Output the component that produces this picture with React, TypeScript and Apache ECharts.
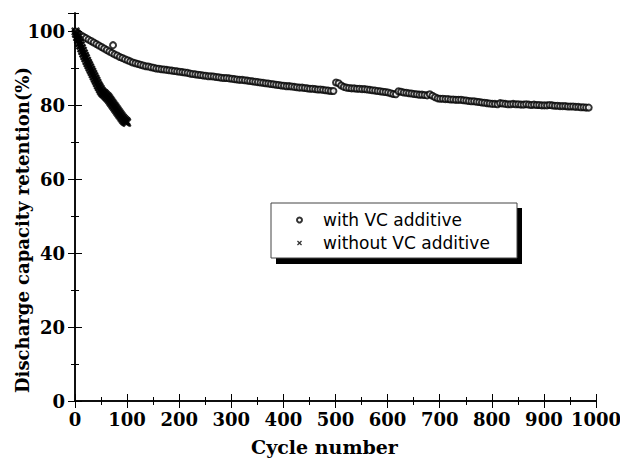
import React, { useEffect, useRef } from "react";
import * as echarts from "echarts";

// ---- data ----
const xTickLabels = ["0", "100", "200", "300", "400", "500", "600", "700", "800", "900", "1000"];
const yTickLabels = ["0", "20", "40", "60", "80", "100"];

// with VC additive: capacity retention (%) sampled every 5 cycles starting at cycle 1
const withVCStartCycle = 1;
const withVCStep = 5;
const withVCValues = [
  100.0, 99.5, 99.0, 98.6, 98.2, 97.8, 97.4, 97.0, 96.6, 96.2,
  95.8, 95.4, 95.0, 94.6, 94.2, 93.8, 93.5, 93.1, 92.8, 92.5,
  92.2, 91.9, 91.6, 91.4, 91.2, 91.0, 90.8, 90.6, 90.5, 90.3,
  90.2, 90.0, 89.9, 89.8, 89.7, 89.6, 89.5, 89.4, 89.3, 89.2,
  89.1, 89.0, 88.9, 88.8, 88.6, 88.5, 88.4, 88.3, 88.2, 88.1,
  88.0, 87.9, 87.9, 87.8, 87.7, 87.6, 87.5, 87.4, 87.4, 87.3,
  87.2, 87.1, 87.0, 86.9, 86.9, 86.8, 86.7, 86.6, 86.5, 86.4,
  86.3, 86.2, 86.1, 86.0, 85.9, 85.8, 85.7, 85.6, 85.5, 85.4,
  85.3, 85.2, 85.2, 85.1, 85.0, 84.9, 84.8, 84.8, 84.7, 84.6,
  84.5, 84.5, 84.4, 84.3, 84.3, 84.2, 84.1, 84.0, 83.9, 83.9,
  86.2, 86.0, 85.4, 85.0, 84.8, 84.7, 84.6, 84.6, 84.5, 84.5,
  84.4, 84.4, 84.3, 84.2, 84.1, 84.0, 83.9, 83.8, 83.7, 83.6,
  83.5, 83.3, 83.1, 83.0, 83.8, 83.7, 83.5, 83.4, 83.3, 83.2,
  83.1, 83.0, 82.9, 82.9, 82.8, 82.7, 83.0, 82.6, 82.2, 81.9,
  81.8, 81.8, 81.7, 81.7, 81.6, 81.6, 81.5, 81.5, 81.5, 81.4,
  81.3, 81.2, 81.1, 81.1, 81.0, 80.9, 80.8, 80.7, 80.6, 80.5,
  80.4, 80.4, 80.3, 80.6, 80.5, 80.4, 80.3, 80.3, 80.4, 80.3,
  80.3, 80.2, 80.2, 80.3, 80.2, 80.1, 80.2, 80.1, 80.1, 80.0,
  80.0, 80.0, 80.1, 80.0, 79.9, 79.9, 79.8, 79.8, 79.8, 79.7,
  79.7, 79.7, 79.6, 79.6, 79.5, 79.5, 79.4, 79.4,
];
// isolated outlier point of the "with VC" series
const withVCOutlierCycle = 73;
const withVCOutlierValue = 96.3;

// without VC additive: one value per cycle, cycles 1..100
const withoutVCValues = [
  100.0, 99.4, 99.3, 98.5, 98.5, 97.7, 97.7, 96.9, 96.9, 96.2,
  96.2, 95.4, 95.5, 94.7, 94.8, 94.0, 94.1, 93.3, 93.4, 92.7,
  92.8, 92.0, 92.1, 91.4, 91.5, 90.8, 90.9, 90.2, 90.3, 89.6,
  89.7, 89.0, 89.1, 88.4, 88.5, 87.8, 87.9, 87.2, 87.3, 86.6,
  86.7, 86.0, 86.1, 85.4, 85.5, 84.9, 85.0, 84.3, 84.5, 83.8,
  84.0, 83.4, 83.6, 83.1, 83.4, 82.9, 83.2, 82.6, 82.9, 82.3,
  82.6, 82.0, 82.4, 81.7, 82.0, 81.3, 81.6, 80.9, 81.2, 80.5,
  80.8, 80.1, 80.4, 79.7, 80.0, 79.3, 79.6, 78.9, 79.2, 78.5,
  78.8, 78.1, 78.4, 77.7, 78.0, 77.3, 77.6, 76.9, 77.2, 76.5,
  76.8, 76.1, 76.5, 75.8, 76.2, 75.6, 75.9, 75.4, 75.7, 75.3,
];

const withVCName = "with VC additive";
const withoutVCName = "without VC additive";

const crossPath =
  "path://M0,1.8L1.8,0L5,3.2L8.2,0L10,1.8L6.8,5L10,8.2L8.2,10L5,6.8L1.8,10L0,8.2L3.2,5Z";

const serifFont = "DejaVu Serif";

export default function App() {
  const ref = useRef<HTMLDivElement>(null);

  useEffect(() => {
    if (!ref.current) return;
    const chart = echarts.init(ref.current, undefined, { renderer: "svg" });

    const withVCData: number[][] = withVCValues.map((v, i) => [withVCStartCycle + i * withVCStep, v]);
    withVCData.splice(15, 0, [withVCOutlierCycle, withVCOutlierValue]);
    const withoutVCData: number[][] = withoutVCValues.map((v, i) => [i + 1, v]);

    const lineStyle = { color: "#000", width: 1.5 };
    const tickLabelStyle = {
      fontFamily: serifFont,
      fontWeight: "bold" as const,
      fontSize: 18,
      color: "#000",
    };

    const baseX = { type: "value" as const, min: 0, max: 1000, splitLine: { show: false } };
    const baseY = { type: "value" as const, min: 0, max: 105, splitLine: { show: false } };

    chart.setOption({
      animation: false,
      backgroundColor: "#fff",
      grid: { left: 75, right: 24, top: 13, bottom: 60, containLabel: false, outerBoundsMode: "none" },
      xAxis: [
        {
          ...baseX,
          position: "bottom",
          interval: 100,
          axisLine: { show: true, lineStyle },
          axisTick: { show: true, inside: true, length: 7, lineStyle: { color: "#000", width: 1 } },
          axisLabel: {
            ...tickLabelStyle,
            margin: 9,
            formatter: (v: number) => xTickLabels[Math.round(v / 100)] ?? "",
          },
          name: "Cycle number",
          nameLocation: "middle",
          nameGap: 36,
          nameMoveOverlap: false,
          nameTextStyle: { ...tickLabelStyle, fontSize: 19, padding: [0, 22, 0, 0] },
        },
        {
          ...baseX,
          position: "bottom",
          interval: 50,
          axisLine: { show: false },
          axisTick: { show: true, inside: true, length: 4, lineStyle: { color: "#000", width: 1 } },
          axisLabel: { show: false },
        },
        {
          ...baseX,
          position: "top",
          interval: 100,
          axisLine: { show: true, lineStyle },
          axisTick: { show: true, inside: true, length: 7, lineStyle: { color: "#000", width: 1 } },
          axisLabel: { show: false },
        },
        {
          ...baseX,
          position: "top",
          interval: 50,
          axisLine: { show: false },
          axisTick: { show: true, inside: true, length: 4, lineStyle: { color: "#000", width: 1 } },
          axisLabel: { show: false },
        },
      ],
      yAxis: [
        {
          ...baseY,
          position: "left",
          interval: 20,
          axisLine: { show: true, lineStyle },
          axisTick: { show: true, inside: true, length: 7, lineStyle: { color: "#000", width: 1 } },
          axisLabel: {
            ...tickLabelStyle,
            margin: 10,
            showMaxLabel: false,
            formatter: (v: number) => (v % 20 === 0 ? yTickLabels[v / 20] ?? "" : ""),
          },
          name: "Discharge capacity retention(%)",
          nameLocation: "middle",
          nameGap: 44,
          nameRotate: 90,
          nameMoveOverlap: false,
          nameTextStyle: { ...tickLabelStyle, fontSize: 18, padding: [0, 46, 0, 0] },
        },
        {
          ...baseY,
          position: "left",
          interval: 10,
          axisLine: { show: false },
          axisTick: { show: true, inside: true, length: 4, lineStyle: { color: "#000", width: 1 } },
          axisLabel: { show: false },
        },
        {
          ...baseY,
          position: "right",
          interval: 20,
          axisLine: { show: true, lineStyle },
          axisTick: { show: true, inside: true, length: 7, lineStyle: { color: "#000", width: 1 } },
          axisLabel: { show: false },
        },
        {
          ...baseY,
          position: "right",
          interval: 10,
          axisLine: { show: false },
          axisTick: { show: true, inside: true, length: 4, lineStyle: { color: "#000", width: 1 } },
          axisLabel: { show: false },
        },
      ],
      legend: {
        orient: "vertical",
        left: 296,
        top: 210,
        padding: 0,
        itemWidth: 5,
        itemHeight: 5,
        itemGap: 3,
        z: 10,
        data: [withVCName, withoutVCName],
        textStyle: {
          fontFamily: "DejaVu Sans",
          fontSize: 17,
          lineHeight: 20,
          color: "#000",
          padding: [0, 0, 0, 16],
        },
      },
      graphic: [
        { type: "rect", z: 5, shape: { x: 276, y: 208, width: 246, height: 56 }, style: { fill: "#000" } },
        {
          type: "rect",
          z: 6,
          shape: { x: 271, y: 203, width: 246, height: 55 },
          style: { fill: "#fff", stroke: "#444", lineWidth: 1 },
        },
      ],
      series: [
        {
          name: withVCName,
          type: "scatter",
          xAxisIndex: 0,
          yAxisIndex: 0,
          symbol: "emptyCircle",
          symbolSize: 6,
          itemStyle: { color: "#000", borderColor: "#000", borderWidth: 1.3 },
          data: withVCData,
        },
        {
          name: withoutVCName,
          type: "scatter",
          xAxisIndex: 0,
          yAxisIndex: 0,
          symbol: crossPath,
          symbolSize: 9,
          itemStyle: { color: "#000" },
          data: withoutVCData,
        },
      ],
    });

    return () => chart.dispose();
  }, []);

  return <div ref={ref} style={{ width: 620, height: 461, position: "absolute", left: 0, top: 0 }} />;
}
